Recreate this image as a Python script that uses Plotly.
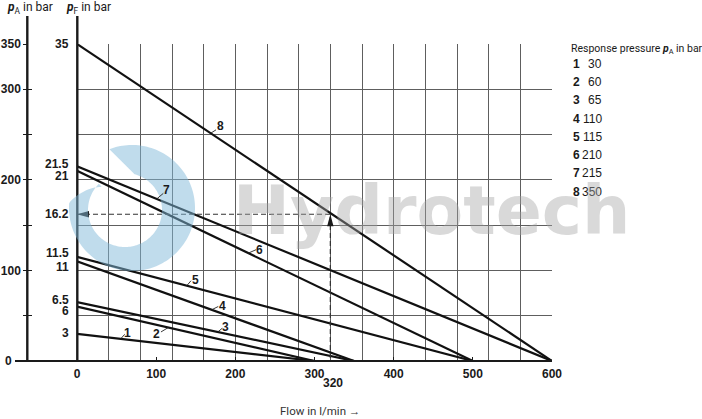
import numpy as np
import plotly.graph_objects as go

# ---------------- data ----------------
curve_ids = [1, 2, 3, 4, 5, 6, 7, 8]
response_pA = [30, 60, 65, 110, 115, 210, 215, 350]          # bar
start_pF = [3, 6, 6.5, 11, 11.5, 21, 21.5, 35]              # bar at zero flow
zero_flow = [300, 300, 350, 350, 500, 500, 600, 600]        # l/min where pF reaches 0
flow_ticks = [0, 100, 200, 300, 400, 500, 600]
pA_ticks = [50, 100, 150, 200, 250, 300, 350]
pA_ticktext = ["", "100", "", "200", "", "300", "350"]
pF_labels = [35, 21.5, 21, 16.2, 11.5, 11, 6.5, 6, 3]
marked_flow = 320
marked_pF = 16.2
grid_flow = list(range(0, 601, 40))
grid_pF = list(range(0, 36, 5))

# ---------------- layout geometry / style ----------------
W, H = 702, 419
X0PX, X1PX = 77, 552
TOPPX, BOTPX = 44, 361
PW, PH = X1PX - X0PX, BOTPX - TOPPX
SX = PW / 600.0          # px per l/min
SY = PH / 35.0           # px per bar (pF)

def pxx(px):             # pixel x -> paper
    return px / W

def pxy(py):             # pixel y -> paper
    return (BOTPX - py) / PH

NUM_FONT = "Liberation Sans, Arial, sans-serif"
TXT_FONT = "Roboto, Liberation Sans, sans-serif"
INK = "#1a1a1a"
GRID = "#5e5e5e"

fig = go.Figure()

# curves
for cid, p0, q0 in zip(curve_ids, start_pF, zero_flow):
    fig.add_trace(go.Scatter(x=[0, q0], y=[p0, 0], mode="lines",
                             line=dict(color="#111111", width=2.2),
                             hoverinfo="skip", showlegend=False, cliponaxis=False))

# dashed reading line
fig.add_trace(go.Scatter(x=[0, marked_flow, marked_flow], y=[marked_pF, marked_pF, 0],
                         mode="lines", line=dict(color="#333333", width=1.2, dash="5px,3px"),
                         hoverinfo="skip", showlegend=False))

# dummy traces so the overlay axes are drawn
for xa, ya in [("x2", "y"), ("x", "y2"), ("x", "y3")]:
    fig.add_trace(go.Scatter(x=[0], y=[0], xaxis=xa, yaxis=ya, mode="markers",
                             marker=dict(opacity=0), hoverinfo="skip", showlegend=False))

shapes = []

# arrowheads
hl, hw = 12, 3.2
shapes.append(dict(type="path", xref="x", yref="y", layer="above",
                   path=f"M 0,{marked_pF} L {hl/SX},{marked_pF + hw/SY} L {hl/SX},{marked_pF - hw/SY} Z",
                   fillcolor=INK, line=dict(width=0)))
shapes.append(dict(type="path", xref="x", yref="y", layer="above",
                   path=f"M {marked_flow},{marked_pF} L {marked_flow - hw/SX},{marked_pF - hl/SY} "
                        f"L {marked_flow + hw/SX},{marked_pF - hl/SY} Z",
                   fillcolor=INK, line=dict(width=0)))

# axis lines
ytop = pxy(16)
shapes += [
    dict(type="line", xref="paper", yref="paper", x0=pxx(15), x1=pxx(X1PX), y0=0, y1=0,
         line=dict(color=INK, width=2.2)),
    dict(type="line", xref="paper", yref="paper", x0=pxx(77.3), x1=pxx(77.3), y0=0, y1=ytop,
         line=dict(color=INK, width=2.4)),
    dict(type="line", xref="paper", yref="paper", x0=pxx(27.3), x1=pxx(27.3), y0=0, y1=ytop,
         line=dict(color=INK, width=2.4)),
]

# watermark logo (light blue swirl, translucent overlay)
cxo, cyo, Ro = 132, 208, 63
cxi, cyi, Ri = 125, 210, 37
pts = []
for th in np.linspace(-111, 215, 160):
    r = Ro if th <= 185 else Ro - (Ro - 37) * (th - 185) / 30.0
    t = np.radians(th)
    pts.append((cxo + r * np.cos(t), cyo + r * np.sin(t)))
for ph in np.linspace(225, -75, 150):
    t = np.radians(ph)
    pts.append((cxi + Ri * np.cos(t), cyi + Ri * np.sin(t)))
path = "M " + " L ".join(f"{pxx(a):.5f},{pxy(b):.5f}" for a, b in pts) + " Z"
shapes.append(dict(type="path", xref="paper", yref="paper", path=path,
                   fillcolor="rgba(130,185,218,0.5)", line=dict(width=0), layer="above"))

annotations = []

# curve labels with leaders (positions = style)
label_flow = [55.2, 115.3, 177.7, 170.1, 138.6, 216.4, 100.7, 168.9]
leader_vec = [(4, -4.5), (-7.3, 4.4), (4.6, -3.8), (6.6, -3.3), (4.3, -5), (7.7, -3.4), (6.6, -5.6), (5.3, -3.4)]
text_off = [(6.5, -6), (-11.3, 6.9), (7.8, -4.6), (10.5, -3.5), (8.5, -5.3), (11, -3.6), (9.5, -9), (9.5, -6.8)]
for cid, p0, q0, f, lv, to in zip(curve_ids, start_pF, zero_flow, label_flow, leader_vec, text_off):
    yv = p0 * (1 - f / q0)
    shapes.append(dict(type="line", xref="x", yref="y", x0=f, y0=yv,
                       x1=f + lv[0] / SX, y1=yv - lv[1] / SY, line=dict(color="#222", width=0.9)))
    annotations.append(dict(x=f, y=yv, xref="x", yref="y", text=f"<b>{cid}</b>", showarrow=False,
                            xshift=to[0], yshift=-to[1], xanchor="center", yanchor="middle",
                            font=dict(family=NUM_FONT, size=12, color=INK)))

# pF labels
pF_shift = [0, 2.3, -5.2, 0, 3.5, -5.3, 2, -4, 0.5]
for v, s in zip(pF_labels, pF_shift):
    annotations.append(dict(x=pxx(71), xref="paper", y=v, yref="y", text=f"<b>{v:g}</b>",
                            showarrow=False, xanchor="right", yanchor="middle", yshift=s,
                            font=dict(family=NUM_FONT, size=12, color=INK)))

# extra x label 320 and pA zero
annotations.append(dict(x=marked_flow, xref="x", y=0, yref="y", text=f"<b>{marked_flow}</b>",
                        showarrow=False, xanchor="center", yanchor="middle", xshift=3, yshift=-22,
                        font=dict(family=NUM_FONT, size=12, color=INK)))
annotations.append(dict(x=pxx(13.5), xref="paper", y=0, yref="y", text="<b>0</b>",
                        showarrow=False, xanchor="right", yanchor="middle",
                        font=dict(family=NUM_FONT, size=12, color=INK)))

# titles
annotations += [
    dict(x=pxx(5), y=pxy(8), xref="paper", yref="paper", text="<b><i>p</i></b><sub>A</sub> in bar",
         showarrow=False, xanchor="left", yanchor="middle", font=dict(family=TXT_FONT, size=12, color=INK)),
    dict(x=pxx(64), y=pxy(8), xref="paper", yref="paper", text="<b><i>p</i></b><sub>F</sub> in bar",
         showarrow=False, xanchor="left", yanchor="middle", font=dict(family=TXT_FONT, size=12, color=INK)),
    dict(x=pxx(278), y=pxy(411), xref="paper", yref="paper", text="Flow in l/min →",
         showarrow=False, xanchor="left", yanchor="middle", font=dict(family=TXT_FONT, size=11.5, color="#333")),
    dict(x=pxx(569), y=pxy(49), xref="paper", yref="paper",
         text="Response pressure <b><i>p</i></b><sub>A</sub> in bar",
         showarrow=False, xanchor="left", yanchor="middle", font=dict(family=TXT_FONT, size=10.5, color=INK)),
]
for i, (cid, pa) in enumerate(zip(curve_ids, response_pA)):
    yy = pxy(64 + i * 18.24)
    annotations.append(dict(x=pxx(571), y=yy, xref="paper", yref="paper", text=f"<b>{cid}</b>",
                            showarrow=False, xanchor="left", yanchor="middle",
                            font=dict(family=NUM_FONT, size=12, color=INK)))
    annotations.append(dict(x=pxx(604), y=yy, xref="paper", yref="paper", text=f"{pa}",
                            showarrow=False, xanchor="right", yanchor="middle",
                            font=dict(family=NUM_FONT, size=12, color=INK)))

# watermark text
annotations.append(dict(x=pxx(431.5), y=pxy(210), xref="paper", yref="paper", text="Hydrotech",
                        showarrow=False, xanchor="center", yanchor="middle",
                        font=dict(family="DejaVu Sans", size=68, color="rgba(165,165,165,0.42)",
                                  weight="bold")))

dom = [pxx(X0PX), pxx(X1PX)]
fig.update_layout(
    width=W, height=H, margin=dict(l=0, r=0, t=TOPPX, b=H - BOTPX, autoexpand=False),
    paper_bgcolor="white", plot_bgcolor="white", showlegend=False,
    xaxis=dict(domain=dom, range=[0, 600], tickmode="array", tickvals=grid_flow,
               showticklabels=False, ticks="", showgrid=True, gridcolor=GRID, gridwidth=1.2,
               zeroline=False, showline=False, automargin=False),
    xaxis2=dict(domain=dom, range=[0, 600], overlaying="x", anchor="y", side="bottom",
                tickmode="array", tickvals=flow_ticks, ticktext=[str(v) for v in flow_ticks],
                ticks="inside", ticklen=4, tickwidth=1.2, tickcolor=INK, showgrid=False,
                zeroline=False, showline=False, automargin=False, ticklabelstandoff=4,
                tickfont=dict(family=NUM_FONT, size=12, color=INK, weight="bold")),
    yaxis=dict(domain=[0, 1], range=[0, 35], tickmode="array", tickvals=grid_pF,
               showticklabels=False, ticks="", showgrid=True, gridcolor=GRID, gridwidth=1.2,
               zeroline=False, showline=False, automargin=False),
    yaxis2=dict(range=[0, 350], overlaying="y", anchor="free", position=pxx(27.3), side="left",
                tickmode="array", tickvals=pA_ticks, ticktext=pA_ticktext,
                ticks="outside", ticklen=4, tickwidth=1.2, tickcolor=INK, showgrid=False,
                zeroline=False, showline=False, automargin=False,
                tickfont=dict(family=NUM_FONT, size=12, color=INK, weight="bold")),
    yaxis3=dict(range=[0, 350], overlaying="y", anchor="free", position=pxx(27.3), side="left",
                tickmode="array", tickvals=pA_ticks, showticklabels=False,
                ticks="inside", ticklen=4, tickwidth=1.2, tickcolor=INK, showgrid=False,
                zeroline=False, showline=False, automargin=False),
    shapes=shapes, annotations=annotations,
)

fig.write_html("out.html", config={"displayModeBar": False},
               post_script="document.body.style.margin='0';document.body.style.padding='0';")
